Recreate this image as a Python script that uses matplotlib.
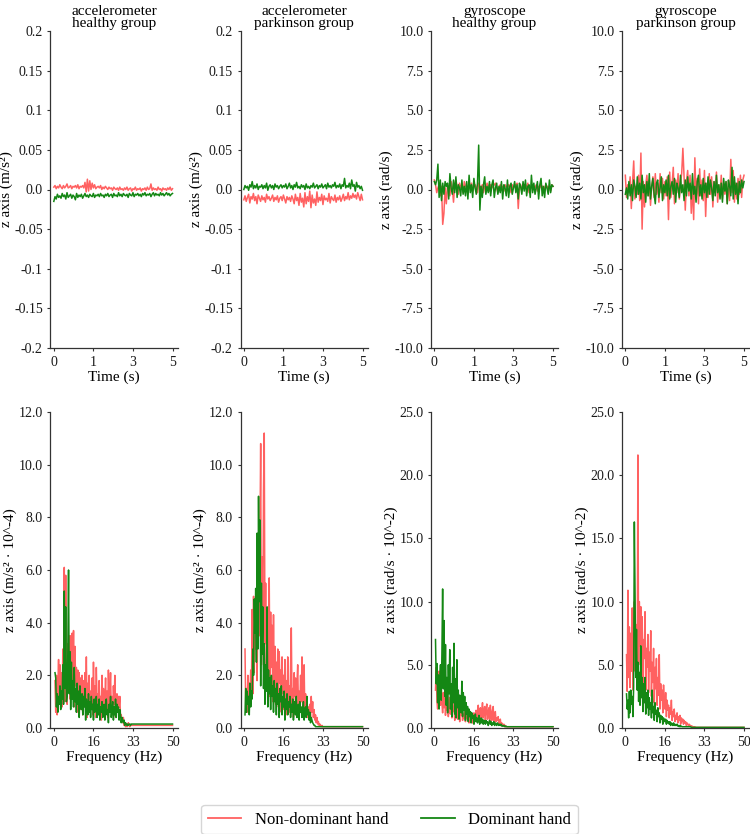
import numpy as np
import matplotlib
matplotlib.use("Agg")
import matplotlib.pyplot as plt

plt.rcParams['font.family'] = ['Liberation Serif', 'DejaVu Serif']

# ---------------- data ----------------
titles = ["accelerometer\nhealthy group", "accelerometer\nparkinson group",
          "gyroscope\nhealthy group", "gyroscope\nparkinson group"]
legend_labels = ["Non-dominant hand", "Dominant hand"]

# time-domain z axis (accelerometer values in 1e-3 m/s^2, gyroscope in rad/s)
acc_healthy_nondom_milli = [3, 5, 1, 4, 2, 6, 3, 1, 5, 2, 4, 7, 2, 3, 5, 1, 4, 3, 5, 2,
    6, 1, 4, 3, 5, 2, 9, -3, 13, -2, 11, 0, 8, 2, 6, 1, 3, 4, 2, 5,
    0, 3, 1, 4, 2, 0, 3, 1, 2, -1, 3, 1, 0, 2, -1, 3, 0, 1, -1, 2,
    0, 3, -1, 1, 2, -2, 1, 0, 3, -1, 1, 0, 2, -2, 1, 0, 2, -1, 3, 0,
    1, 7, -1, 2, 0, 1, -1, 3, 0, 1, -2, 2, 0, 1, -1, 2, 0, 3, -1, 1]
acc_healthy_dom_milli = [-15, -9, -12, -6, -10, -8, -11, -5, -9, -7, -12, -4, -10, -8, -6, -11, -7, -9, -13, -5,
    -10, -7, -9, -6, -11, -8, -5, -9, -7, -10, -6, -8, -9, -5, -10, -7, -8, -6, -9, -5,
    -8, -7, -10, -6, -8, -5, -9, -7, -6, -10, -5, -8, -7, -9, -4, -8, -6, -9, -5, -7,
    -8, -6, -10, -5, -7, -8, -4, -9, -6, -7, -5, -8, -6, -9, -5, -7, -4, -8, -6, -7,
    -5, -9, -6, -4, -8, -5, -7, -6, -8, -4, -7, -5, -8, -6, -4, -7, -5, -8, -6, -5]
acc_pd_nondom_milli = [-13, -8, -15, -10, -6, -17, -9, -12, -5, -14, -9, -18, -7, -11, -15, -8, -13, -10, -16, -6,
    -12, -9, -14, -11, -7, -15, -10, -13, -8, -16, -11, -9, -14, -7, -12, -17, -9, -13, -10, -15,
    -8, -12, -18, -6, -14, -10, -20, -5, -16, -11, -22, -4, -18, -9, -15, -2, -23, -7, -17, -12,
    -20, -3, -16, -10, -14, -6, -19, -8, -13, -11, -15, -5, -17, -9, -12, -14, -7, -16, -10, -13,
    -8, -15, -11, -6, -14, -9, -12, -4, -13, -8, -11, -5, -10, -7, -12, -4, -9, -14, -6, -13]
acc_pd_dom_milli = [0, 5, 2, 4, -1, 6, 3, 10, 1, 5, 2, 7, 0, 4, 3, 6, 1, 5, 2, 8,
    -1, 4, 6, 2, 5, 0, 7, 3, 5, 1, 4, 6, 2, 5, 3, 7, 1, 4, 8, 2,
    5, 0, 6, 3, 9, 2, 4, 1, 6, 3, 5, 0, 7, 2, 4, 1, 5, 3, 8, 2,
    4, 6, 1, 5, 3, 7, 2, 4, 6, 1, 8, 3, 5, 2, 6, 4, 9, 2, 5, 3,
    7, 1, 6, 4, 14, 2, 5, 3, 8, 1, 12, 4, 6, -2, 9, 3, 5, 1, 4, -1]
gyr_healthy_nondom = [0.6, 0.3, -0.2, 0.1, 0.3, -0.4, 0.2, -2.2, -1.5, 0.1, -0.9, 0.3, 0.2, -0.4, 0.5, 0.1, -0.8, 0.3, 0.6, 0.2,
    -0.3, 0.4, 0.1, 0.3, -0.2, 0.5, 0.2, 0.1, -0.3, 0.3, 0.2, 0.4, -0.1, 0.2, 0.3, 0.1, -0.2, 0.4, 0.2, 0.1,
    0.3, -0.2, 0.2, 0.1, 0.4, 0.2, -0.1, 0.3, 0.1, 0.2, 0.3, 0.4, 0.1, -0.2, 0.2, 0.3, 0.1, 0.2, -0.1, 0.3,
    0.2, 0.1, 0.3, 0.2, -0.2, 0.3, 0.1, 0.2, 0.3, 0.4, -1.2, 0.1, 0.3, -0.1, 0.2, 0.3, 0.1, 0.2, 0.4, -0.2,
    0.2, 0.1, 0.3, 0.2, 0.1, 0.3, -0.1, 0.2, 0.1, 0.3, 0.2, -0.2, 0.1, 0.3, 0.2, 0.1, 0.2, -0.1, 0.3, 0.2]
gyr_healthy_dom = [0.5, 0.3, 0.6, 1.6, -0.5, 0.6, -0.7, 0.4, -0.3, 0.5, 0.2, 0.4, -0.6, 1.0, 0.1, -0.3, 0.6, -0.2, 0.8, -0.5,
    0.3, 0.1, -0.4, 0.6, -0.3, 0.2, -0.4, 0.5, -0.6, 0.9, -0.2, 0.3, -0.5, 0.7, 0.1, -0.3, 0.4, 2.8, -1.3, 0.2,
    -0.5, 0.3, 0.8, -0.3, 0.2, -0.2, 0.5, -0.4, 0.3, 0.6, -0.5, 0.1, 0.4, -0.3, 0.2, -0.2, 0.5, -0.6, 0.3, 0.1,
    -0.4, 0.6, -0.5, 0.2, 0.4, -0.3, 0.1, 0.5, -0.2, 0.3, -0.6, 0.4, 0.2, -0.3, 0.5, -0.1, 0.6, -0.4, 0.2, 0.3,
    -0.5, 0.9, -0.2, 0.4, -0.3, 0.1, 0.5, -0.6, 0.3, 0.7, -0.4, 0.2, -0.5, 0.4, 0.1, -0.3, 0.6, -0.2, 0.3, 0.2]
gyr_pd_nondom = [0.9, -0.5, 0.3, -0.2, 0.8, -1.2, 0.4, 1.8, -0.6, 0.2, -0.3, 0.9, -0.7, 2.3, -2.5, 0.5, -1.1, 0.3, 0.9, -0.4,
    0.6, -1.0, 0.2, 0.8, -0.5, 1.0, -0.3, 0.4, -0.8, 1.0, -0.2, 0.7, -0.6, 0.5, -0.4, 0.8, -1.9, 1.1, -0.5, 0.3,
    1.4, -0.9, 0.6, -0.2, 1.0, -0.6, 0.4, 1.0, 2.6, 0.8, -1.3, 0.5, 1.2, -0.4, 0.9, -1.5, 0.3, -1.9, 2.0, -0.6,
    0.7, -0.9, 1.3, -0.4, 0.6, -0.7, 1.2, -1.7, 0.4, -0.5, 1.0, -0.3, 0.8, -1.1, 0.5, -0.2, 1.1, -0.8, 0.3, -0.5,
    0.9, -0.6, 0.4, -0.3, 0.5, -0.9, 0.5, -0.7, 1.9, -0.2, 1.2, -0.8, 0.4, -0.6, 0.7, -0.3, 0.9, -0.5, 0.6, 0.9]
gyr_pd_dom = [-0.3, 0.1, -0.6, 0.5, -0.4, 0.3, -0.7, 0.6, 0.2, -0.5, 0.8, -0.3, 0.4, -0.6, 0.9, -0.2, 0.3, -0.8, 0.5, -0.4,
    1.0, -0.6, 0.2, 0.7, -0.3, -0.9, 0.4, 0.6, -0.5, 0.1, 0.8, -0.7, 0.3, -0.2, 0.6, -0.4, 0.9, -0.6, 0.2, 0.5,
    -0.3, 0.7, -0.8, 0.4, 0.1, -0.5, 0.9, -0.2, 0.3, -0.7, 0.6, -0.4, 0.8, -0.1, 0.4, -0.6, 1.0, -0.3, 0.2, -0.8,
    0.5, 0.9, -0.4, 0.3, -0.6, 0.7, -0.2, 0.4, -0.5, 0.8, -0.3, 0.6, 0.1, -0.7, 0.5, -0.4, 0.9, -0.2, 0.3, -0.6,
    0.4, -0.8, 0.7, -0.1, 0.5, -0.9, 0.6, 0.2, -0.4, 1.4, -0.6, 0.8, -0.3, 0.4, -0.9, 0.5, -0.2, 0.6, 0.1, 0.5]

# frequency-domain spectra (dense part 0.5-33.2 Hz, then tail points)
tail_freqs = [34.5, 37.0, 40.0, 45.0, 50.0]
spec_acc_healthy_nondom = [1.8, 0.6, 2.0, 0.5, 1.6, 2.6, 0.9, 2.4, 1.2, 2.1,
    0.8, 3.0, 1.5, 6.1, 1.0, 5.8, 2.2, 0.9, 3.2, 1.4,
    3.5, 1.1, 3.5, 2.0, 3.6, 1.5, 3.7, 0.8, 3.1, 1.6,
    2.3, 0.6, 2.2, 1.3, 2.1, 0.7, 1.9, 1.2, 2.0, 0.5,
    1.8, 1.0, 2.1, 0.9, 2.7, 0.4, 1.7, 1.1, 2.0, 0.6,
    1.4, 0.8, 1.9, 0.5, 2.5, 0.9, 1.6, 0.4, 2.3, 1.0,
    1.3, 0.6, 1.8, 0.8, 1.2, 0.3, 2.0, 0.9, 1.5, 0.5,
    1.1, 1.9, 0.7, 1.4, 0.4, 2.2, 0.8, 1.3, 2.1, 0.6,
    1.2, 0.5, 1.6, 0.9, 2.0, 0.4, 1.1, 1.3, 0.6, 1.2,
    0.8, 1.2, 0.4, 0.5, 0.3, 0.2, 0.4, 0.1, 0.2, 0.05,
    0.15, 0.05, 0.1, 0.2, 0.1, 0.05, 0.1, 0.1, 0.1, 0.1,
    0.1, 0.1, 0.1, 0.1, 0.1]
spec_acc_healthy_dom = [2.1, 1.9, 0.8, 1.3, 0.6, 1.2, 0.9, 1.6, 0.7, 1.4,
    1.1, 2.4, 0.9, 5.2, 1.5, 4.6, 1.0, 1.2, 2.9, 6.0,
    1.3, 2.9, 0.7, 2.5, 1.1, 1.8, 0.8, 2.3, 1.0, 1.5,
    0.6, 1.7, 0.9, 1.4, 0.4, 1.6, 1.0, 0.7, 1.3, 0.5,
    1.2, 0.8, 1.5, 0.3, 1.1, 0.9, 0.5, 1.3, 0.6, 1.0,
    0.4, 1.2, 0.7, 0.9, 0.3, 1.1, 0.6, 0.8, 1.2, 0.4,
    0.9, 0.5, 1.1, 0.3, 0.8, 0.6, 1.0, 0.4, 0.7, 0.9,
    0.3, 0.8, 1.1, 0.5, 0.7, 0.2, 0.9, 0.6, 1.2, 0.4,
    0.7, 1.0, 0.3, 0.8, 0.5, 1.1, 0.4, 0.9, 0.6, 0.8,
    0.3, 0.7, 0.5, 0.2, 0.4, 0.3, 0.2, 0.3, 0.1, 0.2,
    0.15, 0.1, 0.15, 0.1, 0.15, 0.15, 0.1, 0.15, 0.15, 0.15,
    0.15, 0.15, 0.15, 0.15, 0.15]
spec_acc_pd_nondom = [3.0, 0.8, 1.5, 0.6, 2.0, 0.9, 1.7, 1.2, 2.2, 1.4,
    4.5, 1.3, 5.0, 2.1, 4.8, 3.0, 5.3, 1.8, 4.2, 6.0,
    3.5, 7.2, 10.8, 2.4, 6.5, 4.0, 9.0, 11.2, 3.2, 5.5,
    2.1, 4.1, 1.5, 3.6, 5.7, 1.2, 4.4, 2.3, 3.9, 1.0,
    4.3, 1.6, 3.1, 0.9, 2.5, 1.4, 3.0, 0.8, 2.9, 1.7,
    2.2, 0.6, 2.7, 1.3, 2.0, 0.7, 2.6, 1.1, 1.8, 0.5,
    2.7, 1.0, 1.6, 0.6, 2.3, 3.8, 0.9, 1.5, 0.4, 2.1,
    1.2, 1.9, 0.5, 1.7, 2.4, 0.8, 1.4, 0.6, 2.0, 1.0,
    2.7, 0.7, 1.6, 2.4, 0.5, 1.3, 0.9, 1.1, 0.4, 0.8,
    0.5, 0.9, 0.3, 1.2, 0.6, 1.0, 0.4, 0.7, 0.3, 0.5,
    0.2, 0.4, 0.15, 0.25, 0.1, 0.15, 0.1, 0.05, 0.1, 0.05,
    0.05, 0.05, 0.05, 0.05, 0.05]
spec_acc_pd_dom = [0.5, 1.5, 0.6, 1.4, 0.9, 1.2, 0.5, 1.7, 0.8, 1.4,
    1.1, 3.0, 2.0, 4.9, 3.6, 5.3, 2.5, 7.4, 3.0, 8.8,
    4.8, 7.9, 1.6, 5.5, 2.8, 4.6, 1.5, 3.2, 0.9, 2.4,
    1.4, 4.6, 0.8, 2.2, 1.3, 1.9, 0.7, 2.0, 1.2, 1.6,
    0.6, 1.8, 1.0, 1.5, 0.5, 1.7, 0.9, 1.3, 0.4, 1.5,
    1.0, 1.6, 0.5, 1.2, 0.8, 1.4, 0.3, 1.1, 0.7, 1.3,
    0.5, 1.0, 0.8, 1.2, 0.4, 0.9, 0.6, 1.1, 0.3, 0.8,
    1.0, 0.5, 1.2, 0.4, 0.7, 0.9, 0.3, 1.0, 0.6, 0.8,
    0.4, 0.7, 1.0, 0.3, 0.6, 0.8, 0.4, 1.2, 0.5, 0.7,
    0.3, 0.6, 0.2, 0.4, 0.3, 0.2, 0.15, 0.1, 0.1, 0.05,
    0.05, 0.05, 0.05, 0.05, 0.05, 0.05, 0.05, 0.05, 0.05, 0.05,
    0.05, 0.05, 0.05, 0.05, 0.05]
spec_gyr_healthy_nondom = [3.0, 4.8, 2.1, 1.5, 3.2, 4.5, 2.5, 1.8, 3.4, 2.0,
    1.2, 2.8, 1.6, 3.0, 1.0, 2.3, 1.4, 2.6, 0.9, 1.8,
    2.4, 1.1, 2.0, 0.8, 2.9, 1.3, 1.7, 0.6, 2.2, 1.0,
    1.5, 0.7, 1.9, 1.2, 0.5, 1.6, 1.0, 1.4, 0.6, 1.1,
    0.8, 1.3, 0.5, 1.0, 1.6, 0.7, 1.2, 0.4, 0.9, 1.1,
    0.6, 1.0, 0.4, 0.8, 1.2, 0.5, 0.9, 1.4, 0.6, 1.0,
    1.8, 0.7, 1.2, 1.6, 0.5, 1.4, 2.0, 0.8, 1.3, 1.7,
    0.6, 1.5, 1.9, 0.7, 1.2, 1.6, 0.5, 1.8, 1.1, 0.6,
    1.4, 1.7, 0.4, 1.0, 1.3, 0.5, 0.8, 0.6, 0.9, 0.3,
    0.5, 0.7, 0.2, 0.4, 0.3, 0.2, 0.3, 0.1, 0.2, 0.1,
    0.1, 0.1, 0.1, 0.1, 0.1, 0.1, 0.1, 0.1, 0.1, 0.1,
    0.1, 0.1, 0.1, 0.1, 0.1]
spec_gyr_healthy_dom = [7.0, 3.5, 5.1, 2.0, 4.2, 1.5, 3.8, 5.0, 2.2, 6.0,
    11.0, 3.1, 8.5, 2.5, 6.6, 1.8, 4.0, 1.2, 5.0, 2.7,
    6.2, 1.5, 3.5, 0.9, 4.8, 2.0, 6.7, 1.1, 3.9, 0.8,
    5.4, 1.6, 3.0, 0.7, 2.6, 1.9, 1.2, 3.7, 0.9, 2.8,
    1.4, 2.5, 0.6, 2.0, 1.1, 1.7, 0.5, 1.5, 0.9, 1.3,
    0.4, 1.2, 0.8, 1.0, 0.3, 0.9, 1.1, 0.5, 0.8, 0.4,
    0.7, 1.0, 0.3, 0.6, 0.8, 0.4, 0.7, 0.3, 0.6, 0.5,
    0.3, 0.6, 0.4, 0.5, 0.2, 0.4, 0.6, 0.3, 0.5, 0.2,
    0.4, 0.3, 0.5, 0.2, 0.4, 0.3, 0.2, 0.4, 0.3, 0.2,
    0.3, 0.2, 0.3, 0.15, 0.2, 0.15, 0.2, 0.15, 0.1, 0.15,
    0.1, 0.1, 0.1, 0.1, 0.1, 0.1, 0.1, 0.1, 0.1, 0.1,
    0.1, 0.1, 0.1, 0.1, 0.1]
spec_gyr_pd_nondom = [5.8, 2.9, 10.9, 4.0, 8.0, 3.2, 7.5, 4.5, 9.5, 3.0,
    6.0, 10.0, 4.5, 8.2, 7.8, 3.5, 21.6, 5.0, 10.0, 6.5,
    9.6, 4.2, 8.8, 3.5, 7.0, 5.5, 9.2, 3.0, 6.3, 4.8,
    7.4, 2.8, 6.0, 4.5, 7.7, 2.5, 5.2, 3.6, 6.3, 2.0,
    4.8, 3.1, 5.5, 1.8, 4.0, 2.6, 5.8, 1.5, 3.5, 2.2,
    3.0, 1.2, 3.4, 2.0, 1.5, 2.8, 0.9, 2.2, 1.4, 1.8,
    0.8, 1.6, 1.1, 2.2, 0.6, 1.3, 0.9, 1.5, 0.5, 1.0,
    0.7, 1.2, 0.4, 0.9, 0.6, 1.0, 0.3, 0.8, 0.5, 0.7,
    0.3, 0.6, 0.4, 0.5, 0.2, 0.4, 0.3, 0.2, 0.3, 0.2,
    0.2, 0.1, 0.15, 0.1, 0.1, 0.05, 0.1, 0.05, 0.05, 0.05,
    0.05, 0.05, 0.05, 0.05, 0.05, 0.05, 0.05, 0.05, 0.05, 0.05,
    0.05, 0.05, 0.05, 0.05, 0.05]
spec_gyr_pd_dom = [2.7, 1.5, 2.2, 0.8, 2.9, 1.2, 3.0, 1.9, 2.5, 0.9,
    3.2, 16.3, 10.6, 4.0, 7.8, 3.0, 5.2, 2.1, 4.4, 1.8,
    6.5, 2.4, 4.0, 1.3, 3.5, 2.0, 4.0, 1.1, 2.8, 1.6,
    3.0, 1.0, 2.4, 1.5, 2.0, 0.8, 3.0, 1.2, 1.7, 0.6,
    2.0, 1.1, 1.4, 0.5, 1.6, 0.9, 1.2, 0.4, 1.0, 0.7,
    0.9, 0.3, 0.8, 0.6, 0.5, 0.7, 0.3, 0.6, 0.4, 0.5,
    0.3, 0.5, 0.2, 0.4, 0.3, 0.2, 0.4, 0.2, 0.3, 0.2,
    0.2, 0.3, 0.15, 0.2, 0.1, 0.2, 0.1, 0.15, 0.1, 0.1,
    0.1, 0.1, 0.1, 0.1, 0.1, 0.1, 0.1, 0.1, 0.1, 0.1,
    0.1, 0.05, 0.05, 0.05, 0.05, 0.05, 0.05, 0.05, 0.05, 0.05,
    0.05, 0.05, 0.05, 0.05, 0.05, 0.05, 0.05, 0.05, 0.05, 0.05,
    0.05, 0.05, 0.05, 0.05, 0.05]

acc_time_ticks = [0.2, 0.15, 0.1, 0.05, 0.0, -0.05, -0.1, -0.15, -0.2]
acc_time_labels = ["0.2", "0.15", "0.1", "0.05", "0.0", "-0.05", "-0.1", "-0.15", "-0.2"]
gyr_time_ticks = [10.0, 7.5, 5.0, 2.5, 0.0, -2.5, -5.0, -7.5, -10.0]
acc_freq_ticks = [0, 2, 4, 6, 8, 10, 12]
gyr_freq_ticks = [0, 5, 10, 15, 20, 25]

ylabels_top = ["z axis (m/s\u00b2)", "z axis (m/s\u00b2)", "z axis (rad/s)", "z axis (rad/s)"]
ylabels_bot = ["z axis (m/s\u00b2 \u00b7 10^-4)", "z axis (m/s\u00b2 \u00b7 10^-4)",
               "z axis (rad/s \u00b7 10^-2)", "z axis (rad/s \u00b7 10^-2)"]

time_series = [
    (np.array(acc_healthy_nondom_milli) * 1e-3, np.array(acc_healthy_dom_milli) * 1e-3),
    (np.array(acc_pd_nondom_milli) * 1e-3, np.array(acc_pd_dom_milli) * 1e-3),
    (np.array(gyr_healthy_nondom), np.array(gyr_healthy_dom)),
    (np.array(gyr_pd_nondom), np.array(gyr_pd_dom)),
]
spectra = [
    (spec_acc_healthy_nondom, spec_acc_healthy_dom),
    (spec_acc_pd_nondom, spec_acc_pd_dom),
    (spec_gyr_healthy_nondom, spec_gyr_healthy_dom),
    (spec_gyr_pd_nondom, spec_gyr_pd_dom),
]

# ---------------- styling ----------------
RED = (1.0, 0.38, 0.38)
GREEN = (0.08, 0.53, 0.08)
SPINE = "#333333"
W, H = 750, 834
fig = plt.figure(figsize=(W / 100, H / 100), dpi=100)

col_left = [50.5, 240.5, 431, 622]
ax_w = 127


def fpos(x0, y_top, y_bot):
    return [x0 / W, 1 - y_bot / H, ax_w / W, (y_bot - y_top) / H]


def style(ax):
    for s in ["top", "right"]:
        ax.spines[s].set_visible(False)
    for s in ["left", "bottom"]:
        ax.spines[s].set_color(SPINE)
        ax.spines[s].set_linewidth(0.9)
    ax.tick_params(colors=SPINE, labelcolor="#1a1a1a", labelsize=10, length=2.5, width=0.8, pad=3)


def freq_axis(n):
    dense = np.linspace(0.5, 33.2, n - len(tail_freqs))
    return np.concatenate([dense, tail_freqs])


for k in range(4):
    # top row: time domain
    ax = fig.add_axes(fpos(col_left[k], 31, 348))
    nd, d = time_series[k]
    ax.plot(np.linspace(0, 5, len(nd)), nd, color=RED, lw=1.1)
    ax.plot(np.linspace(0, 5, len(d)), d, color=GREEN, lw=1.1)
    if k < 2:
        ax.set_ylim(-0.2, 0.2)
        ax.set_yticks(acc_time_ticks)
        ax.set_yticklabels(acc_time_labels)
    else:
        ax.set_ylim(-10, 10)
        ax.set_yticks(gyr_time_ticks)
        ax.set_yticklabels([f"{v:.1f}" for v in gyr_time_ticks])
    xt = np.linspace(0, 5, 4)
    ax.set_xticks(xt)
    ax.set_xticklabels([str(int(v)) for v in xt])
    ax.set_xlim(-0.14, 5.21)
    style(ax)
    ax.set_xlabel("Time (s)", fontsize=11, labelpad=1)
    ax.set_ylabel(ylabels_top[k], fontsize=11, labelpad=1)
    ax.set_title(titles[k], fontsize=11, pad=3, linespacing=0.9)

    # bottom row: frequency domain
    ax = fig.add_axes(fpos(col_left[k], 412, 728))
    snd, sd = spectra[k]
    ax.plot(freq_axis(len(snd)), snd, color=RED, lw=1.1)
    ax.plot(freq_axis(len(sd)), sd, color=GREEN, lw=1.1)
    if k < 2:
        ax.set_ylim(0, 12)
        ax.set_yticks(acc_freq_ticks)
    else:
        ax.set_ylim(0, 25)
        ax.set_yticks(gyr_freq_ticks)
    ax.set_yticklabels([f"{v:.1f}" for v in ax.get_yticks()])
    xt = np.linspace(0, 50, 4)
    ax.set_xticks(xt)
    ax.set_xticklabels([str(int(v)) for v in xt])
    ax.set_xlim(-1.4, 52.1)
    style(ax)
    ax.set_xlabel("Frequency (Hz)", fontsize=11, labelpad=1)
    ax.set_ylabel(ylabels_bot[k], fontsize=11, labelpad=1)

handles = [plt.Line2D([], [], color=RED, lw=1.3), plt.Line2D([], [], color=GREEN, lw=1.3)]
fig.legend(handles, legend_labels, loc="upper center", bbox_to_anchor=(389.5 / W, 1 - 805 / H),
           ncol=2, fontsize=12, frameon=True, edgecolor="#cccccc", fancybox=True,
           handlelength=2.0, columnspacing=2.0, borderpad=0.4, borderaxespad=0)

fig.savefig("out.png", dpi=100, facecolor="white")
